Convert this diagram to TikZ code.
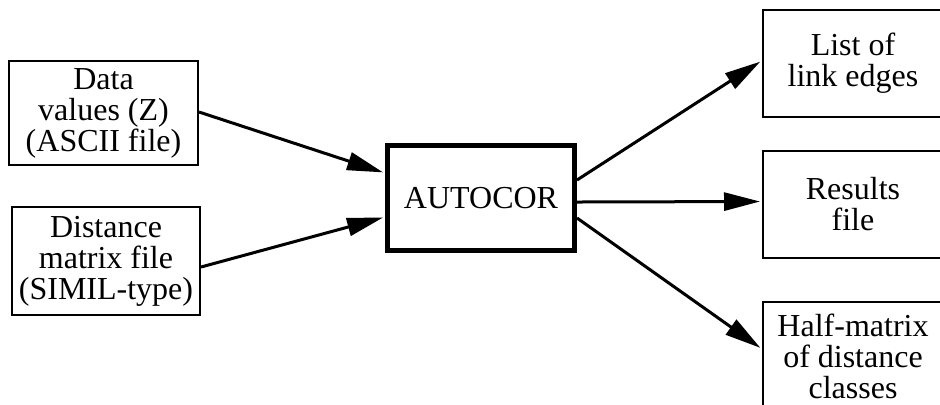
\documentclass[tikz,border=0pt]{standalone}
\usepackage{fontspec}
\setmainfont{Liberation Serif}
\usepackage{tikz}
\usetikzlibrary{arrows.meta,positioning,calc}

\tikzset{
  filebox/.style={draw,line width=1pt,inner sep=0pt,align=center,
    minimum width=90pt,minimum height=53.5pt},
  progbox/.style={draw,line width=2.5pt,inner sep=0pt,
    minimum width=93.5pt,minimum height=52.5pt},
  flow/.style={line width=1.5pt,-{Triangle[length=18pt,width=9pt]},shorten >=1pt},
}

\begin{document}
\begin{tikzpicture}[x=0.5pt,y=-0.5pt,font=\fontsize{16pt}{15.5pt}\selectfont]
  \useasboundingbox (0,0) rectangle (940,404);
  \clip (0,0) rectangle (940,404); % right column is cut by the page edge
  % inputs
  \node[filebox,minimum width=94.5pt,minimum height=52pt] (data) at (103.5,113)
    {Data\\values (Z)\\(ASCII file)};
  \node[filebox,minimum width=94pt,minimum height=54pt] (dist) at (106,261)
    {Distance\\matrix file\\(SIMIL-type)};
  % program
  \node[progbox] (autocor) at (481,198) {AUTOCOR};
  % outputs
  \node[filebox] (links) at (853,63.5) {List of\\link edges};
  \node[filebox] (results) at (853,204.5) {Results\\file};
  \node[filebox,anchor=north,minimum height=54pt] (halfmat) at (853,301)
    {Half-matrix\\of distance\\classes}; % lower edge runs off the page
  % arrows
  \draw[flow] ([yshift=0.5pt]data.east) -- ([yshift=12.5pt]autocor.west);
  \draw[flow] ([yshift=-3pt]dist.east) -- ([yshift=-9.5pt]autocor.west);
  \draw[flow] ([yshift=9pt]autocor.east) -- ([yshift=1.5pt]links.west);
  \draw[flow] ([yshift=-2pt]autocor.east) -- ([yshift=1.5pt]results.west);
  \draw[flow] ([yshift=-10pt]autocor.east) -- ([yshift=3.5pt]halfmat.west);
\end{tikzpicture}
\end{document}
